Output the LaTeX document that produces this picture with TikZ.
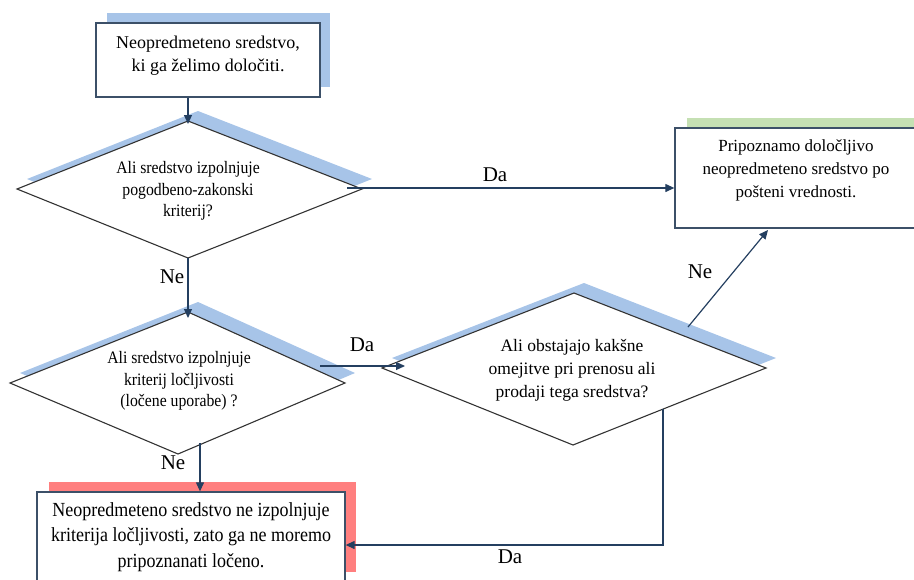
\documentclass[tikz,border=0pt]{standalone}
\usepackage{fontspec}
\setmainfont{Liberation Serif}
\newfontfamily\condserif[FakeStretch=0.9]{Liberation Serif}
\usetikzlibrary{arrows.meta}
\definecolor{shblue}{HTML}{A7C4E8}
\definecolor{shgreen}{HTML}{C5E0B3}
\definecolor{shred}{HTML}{FF7F7F}
\definecolor{boxline}{HTML}{3C5068}
\definecolor{arrline}{HTML}{243F60}
\definecolor{dialine}{HTML}{333333}
\begin{document}
\begin{tikzpicture}[x=1pt,y=-1pt,
  box/.style={draw=boxline, line width=1.3pt, fill=white, inner sep=0pt},
  dia/.style={draw=dialine, line width=1.1pt, fill=white, line join=miter},
  conn/.style={draw=arrline, line width=1.2pt},
  arr/.style={conn, -{Triangle[length=9pt,width=8pt]}},
  lbl/.style={font=\rmfamily\fontsize{21}{21}\selectfont, inner sep=0pt},
  txt/.style={align=center, inner sep=0pt},
]
\useasboundingbox (0,0) rectangle (914,579);
% ---- box 1
\fill[shblue] (107,13) rectangle (330,87);
\node[box, minimum width=224pt, minimum height=74pt] (b1) at (208,60) {};
\node[txt, font=\rmfamily\fontsize{18}{23}\selectfont] (t1) at (208,56) {Neopredmeteno sredstvo,\\ki ga želimo določiti.};
% ---- box 2
\fill[shgreen] (687,118) rectangle (931,218);
\node[box, minimum width=244pt, minimum height=100pt] (b2) at (797,178) {};
\node[txt, font=\rmfamily\fontsize{17}{23}\selectfont] (t2) at (796,170) {Pripoznamo določljivo\\neopredmeteno sredstvo po\\pošteni vrednosti.};
% ---- box 3
\fill[shred] (49,482) rectangle (356,572);
\node[box, minimum width=308pt, minimum height=90pt] (b3) at (191,537) {};
\node[txt, font=\condserif\fontsize{20}{25.5}\selectfont] (t3) at (191,537) {Neopredmeteno sredstvo ne izpolnjuje\\kriterija ločljivosti, zato ga ne moremo\\pripoznanati ločeno.};
% ---- diamond 1
\coordinate (d1l) at (17,189);
\coordinate (d1t) at (188,121);
\coordinate (d1r) at (362,189);
\coordinate (d1b) at (188,258);
\fill[shblue] (27,179) -- (198,111) -- (372,179) -- (198,248) -- cycle;
\draw[dia] (d1l) -- (d1t) -- (d1r) -- (d1b) -- cycle;
\node[txt, font=\condserif\fontsize{17.5}{21.5}\selectfont] (t4) at (188,191) {Ali sredstvo izpolnjuje\\pogodbeno-zakonski\\kriterij?};
% ---- diamond 2
\coordinate (d2l) at (10,383);
\coordinate (d2t) at (188,312);
\coordinate (d2r) at (345,383);
\coordinate (d2b) at (178,454);
\fill[shblue] (20,373) -- (198,302) -- (355,373) -- (188,444) -- cycle;
\draw[dia] (d2l) -- (d2t) -- (d2r) -- (d2b) -- cycle;
\node[txt, font=\condserif\fontsize{17.5}{21.5}\selectfont] (t5) at (179,381) {Ali sredstvo izpolnjuje\\kriterij ločljivosti\\(ločene uporabe) ?};
% ---- diamond 3
\coordinate (d3l) at (382,368);
\coordinate (d3t) at (574,293);
\coordinate (d3r) at (766,368);
\coordinate (d3b) at (573,445);
\fill[shblue] (392,358) -- (584,283) -- (776,358) -- (583,435) -- cycle;
\draw[dia] (d3l) -- (d3t) -- (d3r) -- (d3b) -- cycle;
\node[txt, font=\rmfamily\fontsize{17.5}{23}\selectfont] (t6) at (572,370) {Ali obstajajo kakšne\\omejitve pri prenosu ali\\prodaji tega sredstva?};
% ---- connector end points
\coordinate (d1in) at (188,124);
\coordinate (d2in) at (188,318);
\coordinate (da1s) at (347,188);
\coordinate (da2s) at (320,366);
\coordinate (d3in) at (405,366);
\coordinate (ne3s) at (688,327);
\coordinate (b2in) at (768,230);
\coordinate (loops) at (663,409);
\coordinate (loopc) at (663,545);
\coordinate (ne2s) at (200,443);
% ---- connectors
\draw[arr] (b1.south -| d1t) -- (d1in);
\draw[arr] (d1b) -- (d2in);
\draw[arr] (da1s) -- (b2.west |- da1s);
\draw[arr] (da2s) -- (d3in);
\draw[arr] (ne3s) -- (b2in);
\draw[arr] (loops) -- (loopc) -- (b3.east |- loopc);
\draw[arr] (ne2s) -- (b3.north -| ne2s);
% ---- labels
\node[lbl] (l1) at (495,175) {Da};
\node[lbl] (l2) at (172,277) {Ne};
\node[lbl] (l3) at (362,345) {Da};
\node[lbl] (l4) at (700,272) {Ne};
\node[lbl] (l5) at (173,463) {Ne};
\node[lbl] (l6) at (510,557) {Da};
\end{tikzpicture}
\end{document}
